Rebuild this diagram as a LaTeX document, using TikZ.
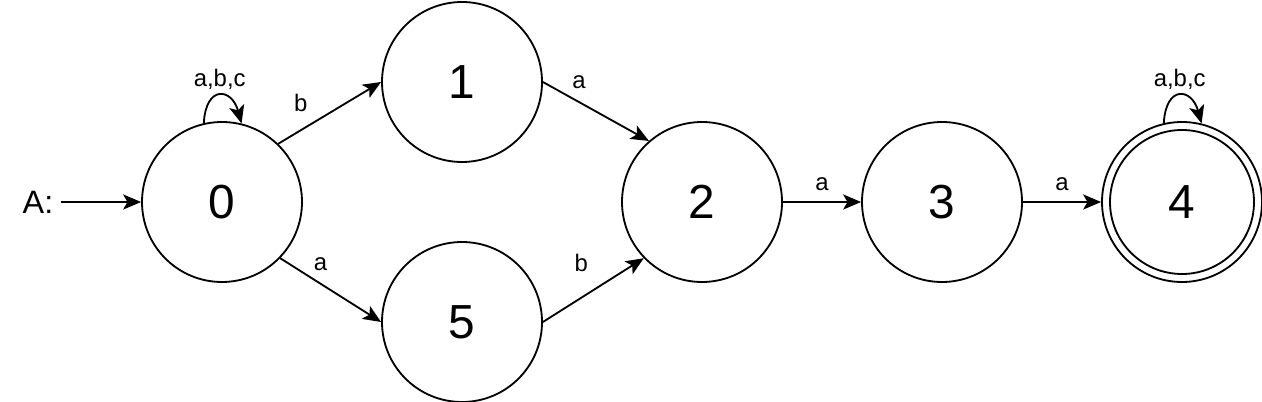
\documentclass[tikz,border=0pt]{standalone}
\usepackage{fontspec}
\setmainfont{Liberation Sans}
\usetikzlibrary{positioning,arrows.meta}

\begin{document}
\begin{tikzpicture}[
    s/.style={
        circle, draw, line width=1.3pt,
        minimum size=4cm, inner sep=0pt,
        font=\fontsize{34}{40}\selectfont
    },
    l/.style={
        line width=1.3pt,
        -{Stealth[length=0.45cm, width=0.38cm, inset=0.11cm]}
    },
    t/.style={font=\fontsize{17}{20}\selectfont, inner sep=1pt},
    on grid
]

\useasboundingbox (0,0) rectangle (31.55,-10.05);

\node [s] (n0) at (5.55,-5.05) {0};
\node [s,above right=3cm and 6cm of n0] (n1) {1};
\node [s,below right=3cm and 6cm of n0] (n5) {5};
\node [s,below right=3cm and 6cm of n1] (n2) {2};
\node [s,right=6cm of n2] (n3) {3};
\node [s,right=6cm of n3] (n4) {4};
\draw [line width=1.3pt] (n4.center) circle (1.8cm);

\node [left=4.6cm of n0, font=\fontsize{23}{28}\selectfont, inner sep=5pt] (init) {A:};
\draw [l] (init) -- (n0);

\draw [l] (n0.46) -- (n1.west) node [t, pos=.22, yshift=0.68cm] (lb01) {b};
\draw [l] (n0.-44) -- (n5.west) node [t, pos=.4, yshift=0.5cm] (lb05) {a};
\draw [l] (n1.east) -- (n2.131) node [t, pos=.34, yshift=0.5cm] (lb12) {a};
\draw [l] (n5.east) -- (n2.224) node [t, pos=.38, yshift=0.87cm] (lb52) {b};
\draw [l] (n2) -- (n3) node [t, midway, yshift=0.45cm] (lb23) {a};
\draw [l] (n3) -- (n4) node [t, midway, yshift=0.45cm] (lb34) {a};

% self loops
\draw [l] (n0.103) .. controls +(0.05,0.95) and +(-0.25,0.9) .. (n0.76)
    node [t, midway, yshift=0.4cm] (lp0) {a,b,c};
\draw [l] (n4.103) .. controls +(0.05,0.95) and +(-0.25,0.9) .. (n4.76)
    node [t, midway, yshift=0.4cm] (lp4) {a,b,c};

\end{tikzpicture}
\end{document}
